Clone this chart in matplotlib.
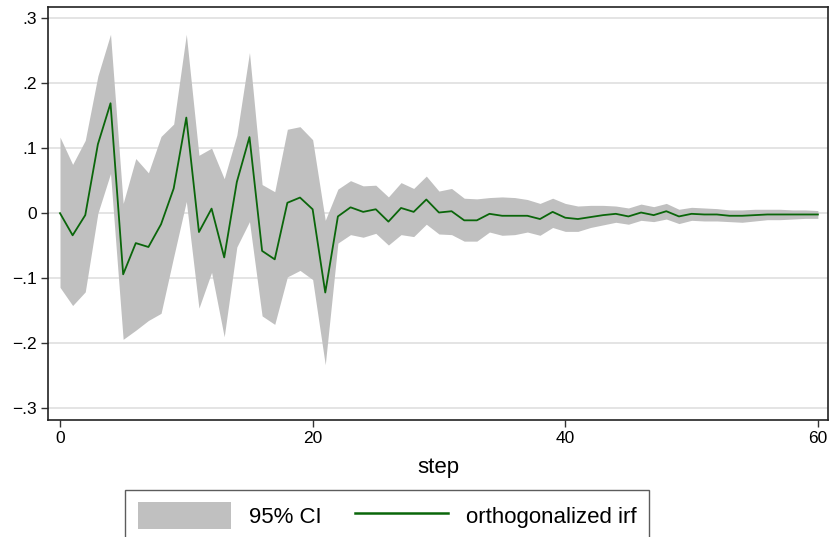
import matplotlib
matplotlib.use("Agg")
import matplotlib.pyplot as plt
from matplotlib.patches import Patch
from matplotlib.lines import Line2D

# orthogonalized irf with 95% CI
step = list(range(61))
irf = [0.000, -0.034, -0.003, 0.106, 0.169, -0.094, -0.046, -0.052, -0.017, 0.038,
       0.147, -0.029, 0.007, -0.068, 0.048, 0.117, -0.058, -0.071, 0.016, 0.024,
       0.006, -0.122, -0.005, 0.009, 0.002, 0.006, -0.013, 0.008, 0.002, 0.021,
       0.001, 0.003, -0.011, -0.011, -0.001, -0.004, -0.004, -0.004, -0.009, 0.002,
       -0.007, -0.009, -0.006, -0.003, -0.001, -0.005, 0.001, -0.003, 0.003, -0.005,
       -0.001, -0.002, -0.002, -0.004, -0.004, -0.003, -0.002, -0.002, -0.002, -0.002,
       -0.002]
upper = [0.117, 0.075, 0.112, 0.211, 0.275, 0.015, 0.084, 0.062, 0.118, 0.137,
         0.275, 0.089, 0.100, 0.053, 0.120, 0.247, 0.044, 0.033, 0.129, 0.133,
         0.113, -0.011, 0.037, 0.050, 0.042, 0.043, 0.025, 0.047, 0.038, 0.057,
         0.034, 0.038, 0.023, 0.022, 0.024, 0.025, 0.024, 0.021, 0.015, 0.023,
         0.015, 0.011, 0.012, 0.012, 0.011, 0.008, 0.014, 0.010, 0.015, 0.006,
         0.009, 0.008, 0.007, 0.005, 0.005, 0.006, 0.006, 0.006, 0.005, 0.005,
         0.004]
lower = [-0.114, -0.142, -0.121, 0.000, 0.061, -0.194, -0.180, -0.165, -0.154, -0.067,
         0.018, -0.146, -0.091, -0.190, -0.052, -0.013, -0.158, -0.171, -0.098, -0.088,
         -0.102, -0.233, -0.046, -0.033, -0.037, -0.031, -0.049, -0.033, -0.036, -0.017,
         -0.032, -0.033, -0.043, -0.043, -0.029, -0.034, -0.033, -0.029, -0.034, -0.022,
         -0.028, -0.028, -0.022, -0.018, -0.014, -0.017, -0.011, -0.013, -0.009, -0.016,
         -0.011, -0.012, -0.012, -0.013, -0.014, -0.012, -0.010, -0.010, -0.009, -0.008,
         -0.008]

yticks = [-0.3, -0.2, -0.1, 0.0, 0.1, 0.2, 0.3]
ylabels = ["\u2212.3", "\u2212.2", "\u2212.1", "0", ".1", ".2", ".3"]
xticks = [0, 20, 40, 60]

plt.rcParams['font.family'] = ['Liberation Sans', 'DejaVu Sans']

ci_color = "#c0c0c0"
line_color = "#0a660a"

fig = plt.figure(figsize=(8.3, 5.37), dpi=100)
ax = fig.add_axes([48 / 830, 117 / 537, 780 / 830, 413 / 537])

ax.fill_between(step, lower, upper, color=ci_color, linewidth=0, zorder=2)
ax.plot(step, irf, color=line_color, linewidth=1.3, zorder=3)

ax.set_xlim(-0.95, 60.8)
ax.set_ylim(-0.318, 0.317)
ax.set_yticks(yticks)
ax.set_yticklabels(ylabels)
ax.set_xticks(xticks)
ax.grid(axis="y", color="#e2e2e2", linewidth=1.3, zorder=0)
ax.set_axisbelow(True)
for s in ax.spines.values():
    s.set_color("#222222")
    s.set_linewidth(1.2)
ax.tick_params(axis="both", direction="out", length=5, width=1, color="#333333",
               labelsize=12.5, pad=3)
ax.set_xlabel("step", fontsize=16, labelpad=8)

handles = [Patch(facecolor=ci_color, edgecolor="none"),
           Line2D([], [], color=line_color, linewidth=1.8)]
fig.legend(handles, ["95% CI", "orthogonalized irf"], loc="upper center",
           bbox_to_anchor=(387 / 830, 1 - 479 / 537), ncol=2, fontsize=16,
           frameon=True, fancybox=False, edgecolor="#333333", handlelength=4.2,
           handleheight=1.5, columnspacing=1.5, handletextpad=0.8,
           borderpad=0.55)

fig.savefig("out.png", dpi=100)
